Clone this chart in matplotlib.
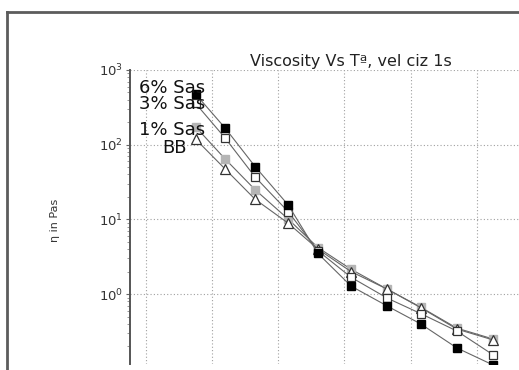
import matplotlib
matplotlib.use("Agg")
import matplotlib.pyplot as plt
import matplotlib.ticker as mticker
from matplotlib.lines import Line2D

# ── data ─────────────────────────────────────────────────────────────
temps = [27.5, 32, 36.5, 41.5, 46, 51, 56.5, 61.5, 67, 72.5]
sas6 = [477, 166, 51, 15.6, 3.5, 1.28, 0.69, 0.40, 0.19, 0.112]
sas3 = [358, 122, 37, 12.7, 3.8, 1.68, 0.88, 0.55, 0.32, 0.153]
sas1 = [174, 64, 25, 10.1, 4.2, 2.15, 1.16, 0.67, 0.35, 0.25]
bb = [119, 47, 18.6, 8.9, 4.0, 2.0, 1.16, 0.66, 0.34, 0.243]
x_grid = [20, 30, 40, 50, 60, 70, 80]
y_ticks = [1, 10, 100, 1000]

plt.rcParams.update({"font.family": "DejaVu Sans"})

W, H = 519, 370
fig = plt.figure(figsize=(W / 100, H / 100), dpi=100)
fig.patch.set_facecolor("white")

# outer frame (only top and left edges visible in the crop)
frame_kw = dict(color="#5c5c5c", linewidth=2.0, transform=fig.transFigure)
fig.add_artist(Line2D([7 / W, 1.02], [1 - 12 / H, 1 - 12 / H], **frame_kw))
fig.add_artist(Line2D([7 / W, 7 / W], [1 - 12 / H, -0.02], **frame_kw))

# axes run past the right and bottom edges of the picture
left, right, top, bottom = 130, 543, 70, 364
ax = fig.add_axes([left / W, (H - bottom) / H, (right - left) / W, (bottom - top) / H])

line_kw = dict(color="#666666", linewidth=0.8)
ax.plot(temps, sas1, marker="s", markersize=6.2, markerfacecolor="#b5b5b5",
        markeredgecolor="#b5b5b5", zorder=2, **line_kw)
ax.plot(temps, bb, marker="^", markersize=6.8, markerfacecolor="white",
        markeredgecolor="#333333", markeredgewidth=0.9, zorder=3, **line_kw)
ax.plot(temps, sas3, marker="s", markersize=6.2, markerfacecolor="white",
        markeredgecolor="#333333", markeredgewidth=0.9, zorder=4, **line_kw)
ax.plot(temps, sas6, marker="s", markersize=6.2, markerfacecolor="black",
        markeredgecolor="black", zorder=5, **line_kw)

ax.set_yscale("log")
ax.set_xlim(17.6, 80)
ax.set_ylim(0.116, 1000)

ax.set_xticks(x_grid)
ax.tick_params(axis="x", bottom=False, labelbottom=False)
ax.yaxis.set_major_locator(mticker.FixedLocator(y_ticks))
ax.yaxis.set_minor_locator(mticker.LogLocator(base=10, subs=range(2, 10)))
ax.yaxis.set_minor_formatter(mticker.NullFormatter())
ax.tick_params(axis="y", which="major", length=3, width=0.8, color="#666666",
               labelsize=9.5, labelcolor="#333333", pad=2)
ax.tick_params(axis="y", which="minor", length=2, width=0.6, color="#888888")

ax.grid(True, which="major", linestyle=(0, (1, 2)), color="#a0a0a0", linewidth=0.8)
ax.set_axisbelow(True)

for side in ("top", "right", "bottom"):
    ax.spines[side].set_visible(False)
ax.spines["left"].set_color("#555555")
ax.spines["left"].set_linewidth(1.4)

ax.set_title("Viscosity Vs Tª, vel ciz 1s", fontsize=11.5, x=0.535, pad=3,
             color="#222222")
ax.set_ylabel("η in Pas", fontsize=8, color="#333333")
ax.yaxis.set_label_coords((60 - left) / (right - left), 0.49)

lab_kw = dict(transform=ax.transAxes, fontsize=13, va="center", ha="left",
              color="#111111", zorder=6)
ax.text(0.022, 0.939, "6% Sas", **lab_kw)
ax.text(0.022, 0.884, "3% Sas", **lab_kw)
ax.text(0.022, 0.796, "1% Sas", **lab_kw)
ax.text(0.077, 0.735, "BB", **lab_kw)

fig.savefig("out.png", dpi=100)
